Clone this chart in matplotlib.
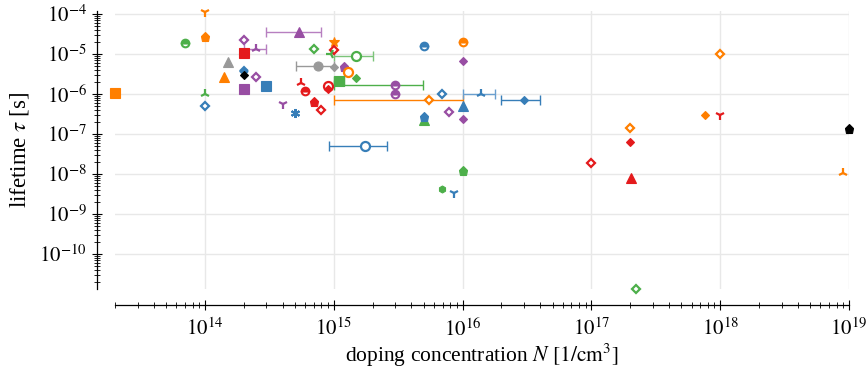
import numpy as np
import matplotlib
matplotlib.use('Agg')
import matplotlib.pyplot as plt
from matplotlib.ticker import LogLocator, NullFormatter, FixedLocator, FixedFormatter

plt.rcParams['font.family'] = ['Liberation Serif', 'DejaVu Serif']
plt.rcParams['mathtext.fontset'] = 'stix'

# ---------------- data ----------------
doping = [2e13, 1e14, 1e14, 7e13, 2e14, 5.4e14, 2.5e14, 2e14, 1.5e14, 2e14,
          2e14, 1.4e14, 2.5e14, 2e14, 3e14, 1e14, 1e14, 4e14, 5e14, 7e14,
          8e14, 5.6e14, 6e14, 9e14, 9e14, 7e14, 1e15, 1e15, 9.5e14, 1.49e15,
          7.5e14, 1e15, 1.2e15, 1.29e15, 1.1e15, 1.5e15, 3e15, 3e15, 3e15, 5.5e15,
          5e15, 1e16, 1e16, 6.9e15, 1e16, 7.9e15, 1e16, 5e15, 5e15, 1.75e15,
          1.4e16, 3e16, 1e18, 7.6e17, 1e18, 2e17, 2e17, 1e17, 2.02e17, 1e19,
          9e18, 1e16, 6.9e15, 8.5e15, 2.2e17]
lifetime = [1.06e-6, 1.1e-4, 2.7e-5, 1.9e-5, 2.2e-5, 3.5e-5, 1.33e-5, 1.04e-5, 6.4e-6, 3.8e-6,
            3.0e-6, 2.7e-6, 2.6e-6, 1.3e-6, 1.55e-6, 1.0e-6, 5e-7, 5.5e-7, 3.3e-7, 6.2e-7,
            4e-7, 1.86e-6, 1.2e-6, 1.6e-6, 1.3e-6, 1.33e-5, 2.0e-5, 1.26e-5, 1.0e-5, 9.1e-6,
            5.1e-6, 4.8e-6, 4.8e-6, 3.55e-6, 2.15e-6, 2.5e-6, 1.68e-6, 1.68e-6, 1.0e-6, 6.9e-7,
            1.6e-5, 1.96e-5, 6.7e-6, 1.0e-6, 5e-7, 3.55e-7, 2.4e-7, 2.3e-7, 2.6e-7, 5e-8,
            1e-6, 6.9e-7, 1.02e-5, 3.0e-7, 3.0e-7, 1.38e-7, 6.4e-8, 1.9e-8, 8.1e-9, 1.3e-7,
            1.05e-8, 1.17e-8, 4.2e-9, 3.3e-9, 1.36e-11]
kind = ['orange-square', 'orange-tridown', 'orange-pentagon', 'green-halfcircle', 'purple-opendiamond',
        'purple-triangle', 'purple-triup', 'red-square', 'grey-triangle', 'blue-halfdiamond',
        'black-diamond', 'orange-triangle', 'purple-opendiamond', 'purple-square', 'blue-square',
        'green-triup', 'blue-opendiamond', 'purple-tridown', 'blue-asterisk', 'red-pentagon',
        'red-opendiamond', 'red-triup', 'red-halfcircle', 'red-opencircle', 'red-smalldiamond',
        'green-opendiamond', 'orange-star', 'red-opendiamond', 'green-trileft', 'green-opencircle',
        'grey-circle', 'grey-diamond', 'purple-pentagon', 'orange-opencircle', 'green-square',
        'green-diamond', 'green-dot', 'purple-halfcircle', 'purple-halfcircle', 'orange-opendiamond',
        'blue-halfcircle', 'orange-halfcircle', 'purple-smalldiamond', 'blue-opendiamond', 'blue-triangle',
        'purple-opendiamond', 'purple-diamond', 'green-triangle', 'blue-pentagon', 'blue-opencircle',
        'blue-triup', 'blue-diamond', 'orange-opendiamond', 'orange-diamond', 'red-tridown',
        'orange-opendiamond', 'red-diamond', 'red-opendiamond', 'red-triangle', 'black-pentagon',
        'orange-triup', 'green-pentagon', 'green-smallstar', 'blue-tridown', 'green-opendiamond']

# horizontal error bars: centre, lifetime, low, high, kind
err_center = [5.4e14, 2.5e14, 1.49e15, 7.5e14, 1.1e15, 3e15, 5.5e15, 1.75e15, 1.4e16, 3e16]
err_tau = [3.5e-5, 1.33e-5, 9.1e-6, 5.1e-6, 2.15e-6, 1.68e-6, 6.9e-7, 5e-8, 1e-6, 6.9e-7]
err_low = [2.97e14, 2.0e14, 1e15, 5.05e14, 1e15, 1e15, 1e15, 9.1e14, 1e16, 1.97e16]
err_high = [8.0e14, 3.0e14, 2.0e15, 1e15, 1.2e15, 4.9e15, 1e16, 2.6e15, 1.8e16, 4.0e16]
err_kind = ['purple-light', 'purple-light', 'green-light', 'grey', 'green', 'green',
            'orange', 'blue', 'blue-light', 'blue']

# ---------------- styles ----------------
COL = {'red': '#e41a1c', 'blue': '#377eb8', 'green': '#4daf4a', 'purple': '#984ea3',
       'orange': '#ff7f00', 'grey': '#999999', 'black': '#000000'}
SHAPE = {  # marker, fill, size, edge width
    'square': ('s', 'full', 6.5, 0.8),
    'tridown': ('1', 'full', 6.5, 1.6),
    'triup': ('2', 'full', 6.5, 1.6),
    'trileft': ('3', 'full', 6.5, 1.6),
    'pentagon': ('p', 'full', 6.5, 0.8),
    'halfcircle': ('o', 'top', 5.5, 1.5),
    'opendiamond': ('D', 'none', 4.5, 1.6),
    'halfdiamond': ('D', 'top', 4.5, 1.5),
    'diamond': ('D', 'full', 4.5, 0.8),
    'smalldiamond': ('D', 'full', 4, 0.8),
    'triangle': ('^', 'full', 6.5, 0.8),
    'asterisk': ((6, 2, 0), 'full', 6.5, 1.5),
    'opencircle': ('o', 'none', 6.5, 1.6),
    'circle': ('o', 'full', 6.5, 0.8),
    'star': ('*', 'full', 7.5, 0.8),
    'smallstar': ('h', 'full', 5, 0.8),
    'dot': ('o', 'full', 4, 0.5),
}
ERRCOL = {'purple-light': '#b77fc0', 'green-light': '#7cc47a', 'grey': '#999999', 'green': '#4daf4a',
          'orange': '#ff7f00', 'blue': '#377eb8', 'blue-light': '#6a9fcf'}

W, H, DPI = 867, 370, 100
fig = plt.figure(figsize=(W / DPI, H / DPI), dpi=DPI)
x0, x1, y0, y1 = 115, 849, 11, 289
ax = fig.add_axes([x0 / W, 1 - y1 / H, (x1 - x0) / W, (y1 - y0) / H])

ax.set_xscale('log')
ax.set_yscale('log')
ax.set_xlim(2e13, 1e19)
ax.set_ylim(10 ** -10.875, 10 ** -3.925)

ax.grid(True, which='major', color='#e8e8e8', lw=1.0)
ax.set_axisbelow(True)

for c, t, lo, hi, k in zip(err_center, err_tau, err_low, err_high, err_kind):
    ax.errorbar([c], [t], xerr=[[c - lo], [hi - c]], fmt='none', ecolor=ERRCOL[k],
                elinewidth=1.0, capsize=3.5, capthick=1.0, zorder=2)

for n, t, k in zip(doping, lifetime, kind):
    cname, sname = k.split('-', 1)
    col = COL[cname]
    m, fill, ms, mew = SHAPE[sname]
    kw = dict(marker=m, markersize=ms, markeredgewidth=mew, color=col, linestyle='none',
              clip_on=False, zorder=3)
    if fill == 'full':
        kw.update(markerfacecolor=col, markeredgecolor=col)
    elif fill == 'none':
        kw.update(markerfacecolor='white', markeredgecolor=col)
    else:
        kw.update(markerfacecolor=col, markeredgecolor=col, fillstyle='top',
                  markerfacecoloralt='white')
    ax.plot([n], [t], **kw)

for s in ['top', 'right']:
    ax.spines[s].set_visible(False)
ax.spines['left'].set_position(('outward', 18 * 72 / DPI))
ax.spines['bottom'].set_position(('outward', 16 * 72 / DPI))
for s in ['left', 'bottom']:
    ax.spines[s].set_linewidth(0.9)

ax.xaxis.set_major_locator(FixedLocator([1e14, 1e15, 1e16, 1e17, 1e18, 1e19]))
ax.xaxis.set_major_formatter(FixedFormatter([r'$10^{14}$', r'$10^{15}$', r'$10^{16}$',
                                             r'$10^{17}$', r'$10^{18}$', r'$10^{19}$']))
ax.xaxis.set_minor_locator(LogLocator(base=10, subs=np.arange(2, 10), numticks=30))
ax.xaxis.set_minor_formatter(NullFormatter())
ax.yaxis.set_major_locator(FixedLocator([1e-10, 1e-9, 1e-8, 1e-7, 1e-6, 1e-5, 1e-4]))
ax.yaxis.set_major_formatter(FixedFormatter([r'$10^{-10}$', r'$10^{-9}$', r'$10^{-8}$', r'$10^{-7}$',
                                             r'$10^{-6}$', r'$10^{-5}$', r'$10^{-4}$']))
ax.yaxis.set_minor_locator(LogLocator(base=10, subs=np.arange(2, 10), numticks=30))
ax.yaxis.set_minor_formatter(NullFormatter())

ax.tick_params(which='major', direction='inout', length=7, width=0.8, labelsize=15)
ax.tick_params(axis='x', which='major', pad=6)
ax.tick_params(axis='y', which='major', pad=4)
ax.tick_params(which='minor', direction='inout', length=4.5, width=0.6)

fig.text((x0 + x1) / 2 / W, 1 - 355 / H,
         r'doping concentration $N$ $\left[1/\mathrm{cm}^3\right]$',
         fontsize=15.5, ha='center', va='center')
fig.text(20 / W, 1 - 150 / H, r'lifetime $\tau$ [s]', fontsize=16.5,
         rotation=90, ha='center', va='center')

fig.savefig('out.png', dpi=DPI)
